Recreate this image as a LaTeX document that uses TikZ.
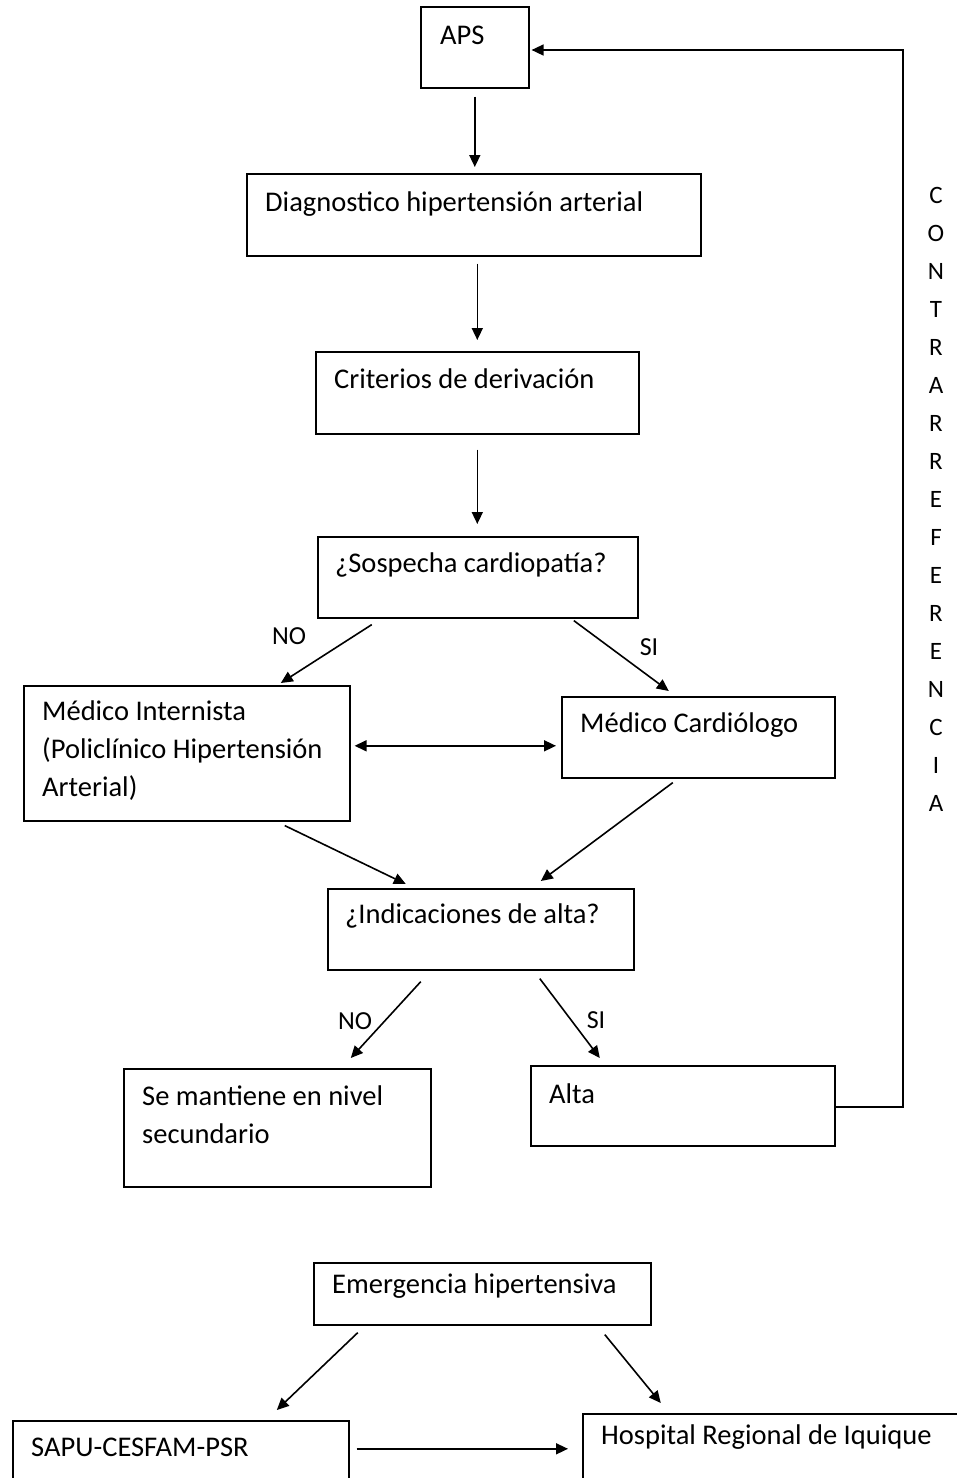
\documentclass[tikz,border=0pt]{standalone}
\usepackage{fontspec}
\setmainfont{Carlito}
\usetikzlibrary{arrows.meta,calc}
\begin{document}
\begin{tikzpicture}[x=1pt,y=-1pt,
  box/.style={draw, line width=1.6pt, inner sep=0pt, anchor=north west},
  txt/.style={inner sep=0pt, anchor=west, font=\fontsize{28.5pt}{38pt}\selectfont, align=left},
  lbl/.style={inner sep=0pt, font=\fontsize{26pt}{30pt}\selectfont},
  arr/.style={line width=1.6pt, -{Triangle[length=12pt,width=11pt]}},
  dbl/.style={line width=1.6pt, {Triangle[length=12pt,width=11pt]}-{Triangle[length=12pt,width=11pt]}},
  ln/.style={line width=1.6pt}]
\fill[white] (0,0) rectangle (956,1478);
\useasboundingbox (0,0) rectangle (956,1478);
% boxes
\node[box, minimum width=108pt, minimum height=81pt] (aps) at (420,6) {};
\node[box, minimum width=454pt, minimum height=82pt] (diag) at (246,173) {};
\node[box, minimum width=323pt, minimum height=82pt] (crit) at (315,351) {};
\node[box, minimum width=320pt, minimum height=81pt] (sosp) at (317,536) {};
\node[box, minimum width=326pt, minimum height=135pt] (inter) at (23,685) {};
\node[box, minimum width=273pt, minimum height=81pt] (cardio) at (561,696) {};
\node[box, minimum width=306pt, minimum height=81pt] (indic) at (327,888) {};
\node[box, minimum width=307pt, minimum height=118pt] (mant) at (123,1068) {};
\node[box, minimum width=304pt, minimum height=80pt] (alta) at (530,1065) {};
\node[box, minimum width=337pt, minimum height=62pt] (emerg) at (313,1262) {};
\node[box, minimum width=336pt, minimum height=70pt] (sapu) at (12,1420) {};
\node[box, minimum width=380pt, minimum height=70pt] (hosp) at (582,1413) {};
% texts
\node[txt] (taps) at (440,35) {APS};
\node[txt] (tdiag) at (265,204) {Diagnostico hipertensión arterial};
\node[txt] (tcrit) at (334,379) {Criterios de derivación};
\node[txt] (tsosp) at (335,565) {¿Sospecha cardiopatía?};
\node[txt] (tinter) at (42,751) {Médico Internista\\(Policlínico Hipertensión\\Arterial)};
\node[txt] (tcardio) at (580,725) {Médico Cardiólogo};
\node[txt] (tindic) at (345,916) {¿Indicaciones de alta?};
\node[txt] (tmant) at (142,1115) {Se mantiene en nivel\\secundario};
\node[txt] (talta) at (549,1094) {Alta};
\node[txt] (temerg) at (332,1286) {Emergencia hipertensiva};
\node[txt] (tsapu) at (31,1447) {SAPU-CESFAM-PSR};
\node[txt] (thosp) at (601,1437) {Hospital Regional de Iquique};
\node[inner sep=0pt, font=\fontsize{25pt}{38pt}\selectfont, align=center] (contra) at (936,499)
  {C\\O\\N\\T\\R\\A\\R\\R\\E\\F\\E\\R\\E\\N\\C\\I\\A};
% labels
\node[lbl] (lno1) at (289,636) {NO};
\node[lbl] (lsi1) at (649,647) {SI};
\node[lbl] (lno2) at (355,1021) {NO};
\node[lbl] (lsi2) at (596,1020) {SI};
% connectors
\draw[arr, shorten <=8pt, shorten >=6pt] (aps.south) -- (aps.south |- diag.north);
\draw[arr, shorten <=7pt, shorten >=11pt] (crit.north |- diag.south) -- (crit.north);
\draw[arr, shorten <=15pt, shorten >=12pt] (crit.south) -- (crit.south |- sosp.north);
\draw[arr] ($(sosp.south)+(-106,6)$) -- ($(inter.north)+(94,-2)$);
\draw[arr] ($(sosp.south)+(96,2)$) -- ($(cardio.north)+(-29.5,-5)$);
\draw[dbl] ($(inter.east)+(4,-7.5)$) -- ($(cardio.west)+(-5,8.5)$);
\draw[arr] ($(inter.south)+(98,4)$) -- ($(indic.north)+(-75,-4)$);
\draw[arr] ($(cardio.south)+(-25.5,4)$) -- ($(indic.north)+(60,-7)$);
\draw[arr] ($(indic.south)+(-60,11)$) -- ($(mant.north)+(73.5,-10)$);
\draw[arr] ($(indic.south)+(59,8)$) -- ($(alta.north)+(-83,-7)$);
\coordinate (ret1) at (903,1107);
\coordinate (ret2) at (903,50);
\draw[arr, shorten >=2pt] (alta.east |- ret1) -- (ret1) -- (ret2) -- (aps.east |- ret2);
\draw[arr] ($(emerg.south)+(-124.5,7)$) -- ($(sapu.north)+(96,-10)$);
\draw[arr] ($(emerg.south)+(122.5,9)$) -- ($(hosp.north)+(-112,-10)$);
\draw[arr] ($(sapu.east)+(7,-7)$) -- ($(hosp.west)+(-14,0)$);
\end{tikzpicture}
\end{document}
